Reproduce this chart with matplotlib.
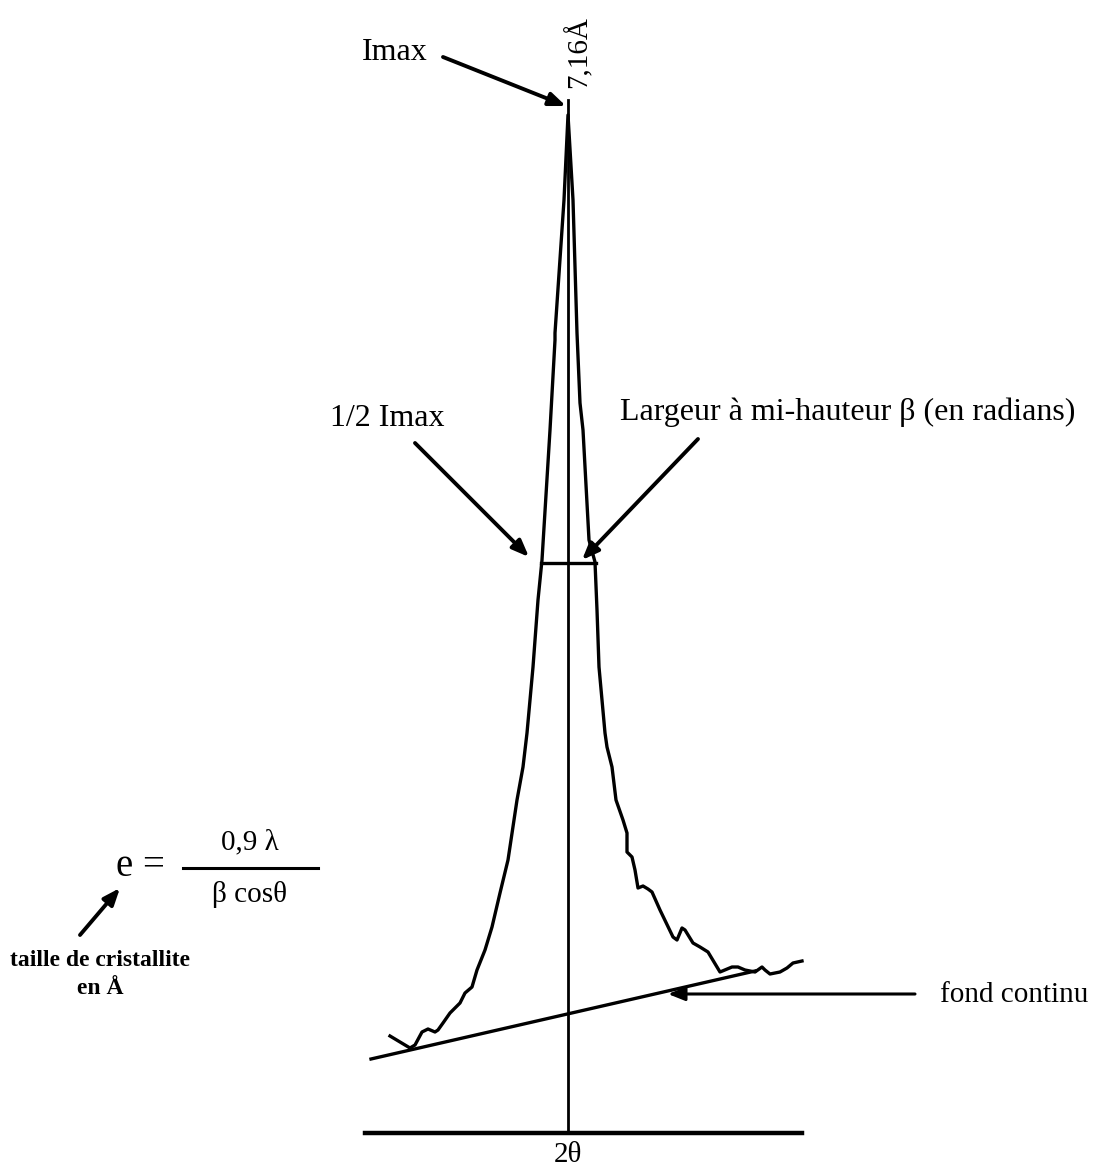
import matplotlib
matplotlib.use("Agg")
import matplotlib.pyplot as plt

# pixel canvas of the scanned figure
W, H = 1102, 1171

# traced peak profile (x, y in picture pixels), apex first
left_x = [568, 564, 555, 555, 550, 542, 538, 533, 527, 523, 517, 508, 500, 492,
          485, 477, 472, 465, 460, 450, 443, 438, 435, 428, 422, 415, 410]
left_y = [115, 200, 333, 340, 430, 560, 600, 667, 733, 767, 800, 860, 893, 927,
          950, 970, 987, 993, 1003, 1013, 1023, 1030, 1032, 1029, 1032, 1045, 1048]
right_x = [568, 573, 577, 580, 583, 589, 595, 597, 599, 605, 607, 612, 616, 623,
           627, 627, 632, 635, 638, 643, 648, 652, 660, 673, 677, 682, 685, 693,
           700, 708, 717, 720, 732, 738, 745, 755, 762, 765, 770, 780, 787, 793, 802]
right_y = [115, 200, 333, 403, 430, 540, 562, 610, 667, 733, 747, 767, 800, 820,
           833, 852, 857, 870, 888, 886, 889, 892, 910, 937, 940, 928, 930, 943,
           947, 952, 967, 972, 967, 967, 970, 972, 967, 970, 974, 972, 968, 963, 961]

# background line (fond continu) and half max level
bg_x = [371, 755]
bg_y = [1059, 971]
half_y = 563
center_x = 568

fig = plt.figure(figsize=(W / 100, H / 100), dpi=100)
ax = fig.add_axes([0, 0, 1, 1])
ax.set_xlim(0, W)
ax.set_ylim(H, 0)
ax.axis("off")

plt.rcParams["font.family"] = ["Liberation Serif", "DejaVu Serif"]
lw = 2.4

# peak
ax.plot(left_x[::-1] + right_x, left_y[::-1] + right_y, color="black", lw=lw,
        solid_joinstyle="round")
# small stroke at left foot
ax.plot([390, 410], [1036, 1048], color="black", lw=lw)
# centre line and baseline
ax.plot([center_x, center_x], [100, 1133], color="black", lw=2)
ax.plot([365, 802], [1133, 1133], color="black", lw=3.2)
# background
ax.plot(bg_x, bg_y, color="black", lw=lw)
# half max segment
ax.plot([541, 596], [half_y, half_y], color="black", lw=lw)

arrow = dict(arrowstyle="-|>,head_length=1.0,head_width=0.4", color="black", lw=2.8,
             shrinkA=0, shrinkB=0)
ax.annotate("", xy=(566, 106), xytext=(443, 57), arrowprops=arrow)
ax.annotate("", xy=(529, 557), xytext=(415, 443), arrowprops=arrow)
ax.annotate("", xy=(582, 560), xytext=(698, 439), arrowprops=arrow)
ax.annotate("", xy=(668, 994), xytext=(915, 994), arrowprops=dict(arrow, lw=2.2))
ax.annotate("", xy=(120, 888), xytext=(80, 935), arrowprops=arrow)

ax.text(362, 52, "Imax", fontsize=23, ha="left", va="center")
ax.text(578, 88, "7,16Å", fontsize=21, rotation=90, ha="center", va="bottom")
ax.text(330, 418, "1/2 Imax", fontsize=23, ha="left", va="center")
ax.text(620, 412, "Largeur à mi-hauteur β (en radians)", fontsize=23,
        ha="left", va="center")
ax.text(940, 995, "fond continu", fontsize=21, ha="left", va="center")
ax.text(568, 1142, "2θ", fontsize=21, ha="center", va="top")

# formula
ax.text(140, 866, "e =", fontsize=28, ha="center", va="center")
ax.plot([183, 318], [868, 868], color="black", lw=2.2)
ax.text(250, 842, "0,9 λ", fontsize=21, ha="center", va="center")
ax.text(250, 895, "β cosθ", fontsize=21, ha="center", va="center")
ax.text(100, 961, "taille de cristallite", fontsize=17, fontweight="bold",
        ha="center", va="center")
ax.text(100, 989, "en Å", fontsize=17, fontweight="bold", ha="center", va="center")

fig.savefig("out.png", dpi=100)
